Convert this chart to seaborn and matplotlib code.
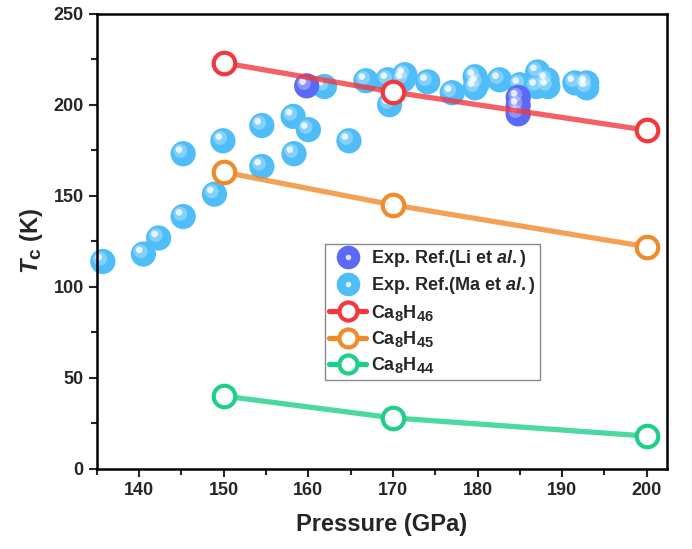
import pandas as pd
import seaborn as sbn
import matplotlib.pyplot as plt
import matplotlib._mathtext as mtext
from matplotlib.lines import Line2D
from matplotlib.legend_handler import HandlerTuple
from matplotlib.transforms import offset_copy

# Experimental points (Ma et al.)
ma_p = [135.7, 140.5, 142.3, 145.2, 145.2, 148.9, 149.9, 154.5, 154.5, 158.2,
        158.3, 160.0, 161.9, 164.8, 166.8, 169.4, 169.6, 171.2, 171.4, 174.1,
        177.0, 179.7, 180.0, 179.7, 182.6, 185.0, 187.1, 187.0, 188.2, 188.3,
        191.5, 192.9, 192.9]
ma_tc = [113.9, 118.0, 126.8, 138.6, 173.1, 150.9, 180.2, 166.1, 188.6, 193.6,
         173.1, 186.3, 210.0, 180.2, 213.2, 213.7, 200.0, 213.7, 216.5, 212.6,
         206.6, 215.4, 212.0, 209.3, 213.7, 211.0, 218.0, 210.0, 213.7, 210.0,
         212.0, 212.0, 209.3]

# Experimental points (Li et al.)
li_p = [159.8, 184.8, 184.8, 184.8]
li_tc = [210.4, 204.0, 199.5, 195.0]

# Calculated Tc
calc_p = [150, 170, 200]
h46 = [223, 207, 186]
h45 = [163, 145, 122]
h44 = [40, 28, 18]

c_ma, c_li = '#4FBDF8', '#5A6AF6'
c46, c45, c44 = '#F2383C', '#F08A2A', '#1ECF8A'

# bigger subscripts, like the original figure
mtext.SHRINK_FACTOR = 0.82

sbn.set_style('ticks')
plt.rcParams['font.family'] = ['Liberation Sans', 'DejaVu Sans']
plt.rcParams['font.weight'] = 'bold'
plt.rcParams['mathtext.fontset'] = 'custom'
plt.rcParams['mathtext.rm'] = 'Liberation Sans:bold'
plt.rcParams['mathtext.bf'] = 'Liberation Sans:bold'
plt.rcParams['mathtext.it'] = 'Liberation Sans:bold:italic'

fig = plt.figure(figsize=(6.92, 5.49), dpi=100)
ax = fig.add_axes([0.140, 0.146, 0.824, 0.829])

exp = pd.DataFrame({'P': ma_p + li_p, 'Tc': ma_tc + li_tc,
                    'src': ['Ma'] * len(ma_p) + ['Li'] * len(li_p)})

# balls with a small highlight
ball_s = 330
for src, col in [('Ma', c_ma), ('Li', c_li)]:
    d = exp[exp.src == src]
    sbn.scatterplot(data=d, x='P', y='Tc', color=col, s=ball_s, edgecolor='none',
                    ax=ax, zorder=2, legend=False, clip_on=False)
    hl1 = offset_copy(ax.transData, fig=fig, x=-2, y=2, units='points')
    hl2 = offset_copy(ax.transData, fig=fig, x=-3, y=3, units='points')
    ax.scatter(d.P, d.Tc, s=ball_s * 0.3, color='white', alpha=0.3,
               edgecolor='none', transform=hl1, zorder=2, clip_on=False)
    ax.scatter(d.P, d.Tc, s=ball_s * 0.07, color='white', alpha=0.8,
               edgecolor='none', transform=hl2, zorder=2, clip_on=False)

# calculated lines
for vals, col in [(h46, c46), (h45, c45), (h44, c44)]:
    d = pd.DataFrame({'P': calc_p, 'Tc': vals})
    sbn.lineplot(data=d, x='P', y='Tc', color=col, lw=3.8, alpha=0.8, ax=ax, zorder=3)
    sbn.scatterplot(data=d, x='P', y='Tc', s=240, facecolor='white', edgecolor=col,
                    linewidth=3, ax=ax, zorder=4, legend=False, clip_on=False)

ax.set_xlim(135, 202.4)
ax.set_ylim(0, 250)
ax.set_xticks(range(140, 201, 10))
ax.set_xticks(range(135, 201, 5), minor=True)
ax.set_yticks(range(0, 251, 50))
ax.set_yticks(range(0, 251, 25), minor=True)
ax.tick_params(which='major', direction='out', length=6, width=1.5, labelsize=13)
ax.tick_params(which='minor', direction='out', length=4, width=1.5)
for sp in ax.spines.values():
    sp.set_linewidth(1.8)
    sp.set_color('black')
    sp.set_zorder(5)

ax.set_xlabel('Pressure (GPa)', fontsize=17, fontweight='bold', labelpad=10)
ax.set_ylabel(r'$\mathit{T}_\mathrm{c}$ (K)', fontsize=17, fontweight='bold', labelpad=6)

def ball(col):
    return (Line2D([], [], ls='none', marker='o', ms=17, mfc=col, mec='none'),
            Line2D([], [], ls='none', marker='o', ms=4, mfc='white', mec='none', alpha=0.8))

handles = [ball(c_li), ball(c_ma)]
for col in [c46, c45, c44]:
    handles.append(Line2D([], [], color=col, lw=3.8, marker='o', ms=13,
                          mfc='white', mec=col, mew=3))
labels = [r'Exp. Ref.(Li et $\mathit{al.}$)', r'Exp. Ref.(Ma et $\mathit{al.}$)',
          r'Ca$_8$H$_{46}$', r'Ca$_8$H$_{45}$', r'Ca$_8$H$_{44}$']
leg = ax.legend(handles, labels, handler_map={tuple: HandlerTuple(ndivide=1)},
                loc='upper left', bbox_to_anchor=(0.40, 0.495), fontsize=13,
                frameon=True, fancybox=False, edgecolor='#888888', framealpha=1,
                handlelength=2.0, handletextpad=0.3, borderpad=0.25,
                labelspacing=0.35, borderaxespad=0)
leg.get_frame().set_linewidth(1.0)
leg.set_zorder(6)

fig.savefig('out.png', dpi=100)
